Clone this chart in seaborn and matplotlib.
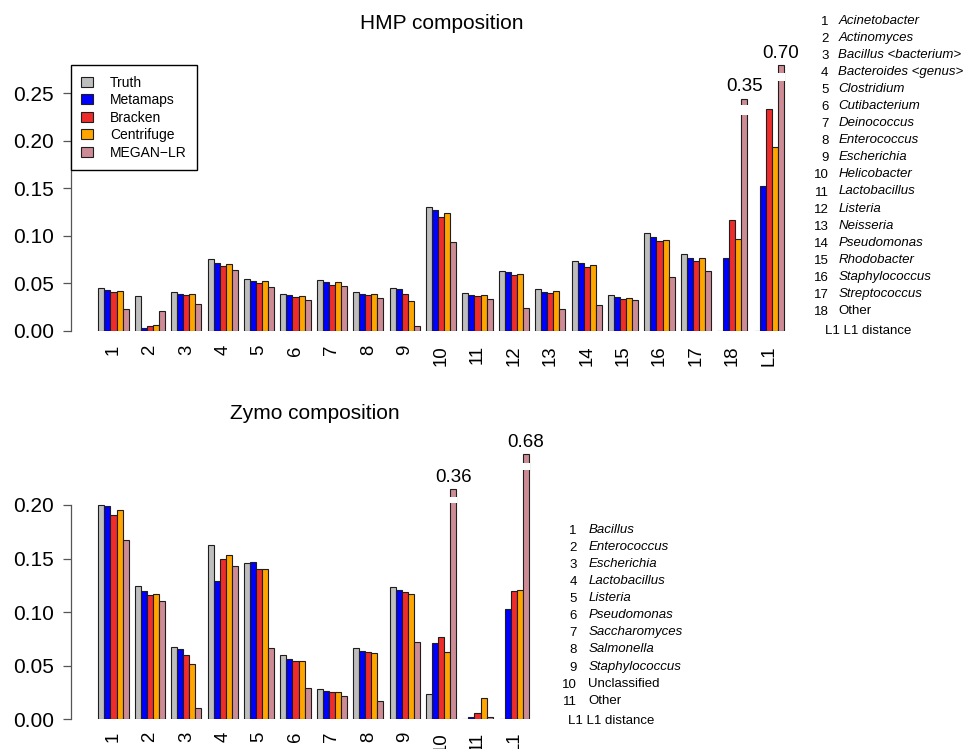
import numpy as np
import pandas as pd
import matplotlib
matplotlib.use("Agg")
import matplotlib.pyplot as plt
from matplotlib.patches import Patch, Rectangle
import seaborn as sns

# ---------------- data ----------------
methods = ["Truth", "Metamaps", "Bracken", "Centrifuge", "MEGAN\u2212LR"]
colors = ["#BEBEBE", "#0000FF", "#EE2C2C", "#FFA500", "#CD8C95"]

hmp_cats = [str(i) for i in range(1, 19)] + ["L1"]
hmp_truth = [0.0446, 0.037, 0.0407, 0.0754, 0.0547, 0.039, 0.0537, 0.0407, 0.0453, 0.1298,
             0.0393, 0.0632, 0.0435, 0.0733, 0.0379, 0.1025, 0.0804, 0.0, 0.0]
hmp_metamaps = [0.0425, 0.0025, 0.039, 0.0709, 0.0526, 0.0375, 0.0509, 0.0382, 0.0435, 0.1267,
                0.0379, 0.0614, 0.041, 0.0709, 0.0354, 0.0982, 0.0765, 0.0761, 0.1519]
hmp_bracken = [0.0404, 0.0046, 0.0375, 0.0684, 0.0502, 0.0358, 0.0484, 0.0375, 0.039, 0.1196,
               0.0365, 0.0582, 0.0393, 0.0674, 0.0333, 0.0944, 0.0733, 0.1165, 0.2333]
hmp_centrifuge = [0.042, 0.0056, 0.039, 0.0705, 0.0519, 0.0368, 0.0512, 0.0382, 0.0309, 0.1235,
                  0.0372, 0.06, 0.0414, 0.0695, 0.0344, 0.0958, 0.0765, 0.0968, 0.1933]
hmp_megan = [0.023, 0.021, 0.0277, 0.0642, 0.0456, 0.0326, 0.0474, 0.0344, 0.0053, 0.093,
             0.0337, 0.0242, 0.0225, 0.0274, 0.0319, 0.0561, 0.0632, 0.35, 0.70]
# truncated (broken) MEGAN bars: category -> (drawn height, gap low, gap high)
hmp_breaks = {"18": (0.2445, 0.2270, 0.2376), "L1": (0.2797, 0.2630, 0.2718)}
hmp_names = ["Acinetobacter", "Actinomyces", "Bacillus <bacterium>", "Bacteroides <genus>",
             "Clostridium", "Cutibacterium", "Deinococcus", "Enterococcus", "Escherichia",
             "Helicobacter", "Lactobacillus", "Listeria", "Neisseria", "Pseudomonas",
             "Rhodobacter", "Staphylococcus", "Streptococcus", "Other"]

zymo_cats = [str(i) for i in range(1, 12)] + ["L1"]
zymo_truth = [0.1997, 0.1245, 0.0674, 0.1624, 0.1457, 0.0596, 0.0283, 0.0661, 0.1239, 0.0233, 0.0, 0.0]
zymo_metamaps = [0.1988, 0.1199, 0.0658, 0.1289, 0.1466, 0.0565, 0.0267, 0.0637, 0.1208, 0.0711, 0.0022, 0.1025]
zymo_bracken = [0.1904, 0.1158, 0.0602, 0.1497, 0.1404, 0.0543, 0.0252, 0.063, 0.1186, 0.0767, 0.0062, 0.1196]
zymo_centrifuge = [0.1953, 0.1171, 0.0519, 0.1534, 0.1404, 0.0543, 0.0258, 0.0618, 0.1168, 0.063, 0.0202, 0.1205]
zymo_megan = [0.1677, 0.1106, 0.0109, 0.1429, 0.0668, 0.0289, 0.0214, 0.0171, 0.0724, 0.36, 0.0025, 0.68]
zymo_breaks = {"10": (0.2149, 0.2016, 0.2077), "L1": (0.2474, 0.2327, 0.2395)}
zymo_names = ["Bacillus", "Enterococcus", "Escherichia", "Lactobacillus", "Listeria",
              "Pseudomonas", "Saccharomyces", "Salmonella", "Staphylococcus",
              "Unclassified", "Other"]
zymo_upright = {"Unclassified", "Other"}
hmp_upright = {"Other"}

# ---------------- style ----------------
sns.set_theme(style="white")
plt.rcParams["font.family"] = ["Liberation Sans", "DejaVu Sans"]
plt.rcParams["axes.linewidth"] = 0.9
plt.rcParams["text.color"] = "black"
plt.rcParams["xtick.color"] = "black"
plt.rcParams["ytick.color"] = "black"
plt.rcParams["xtick.labelcolor"] = "black"
plt.rcParams["ytick.labelcolor"] = "black"

W, H = 968, 749
fig = plt.figure(figsize=(W / 100, H / 100), dpi=100)


def px_axes(x0, x1, y_top, y_bot):
    return fig.add_axes([x0 / W, 1 - y_bot / H, (x1 - x0) / W, (y_bot - y_top) / H])


def draw_panel(ax, cats, series, breaks, ylim_top, yticks, xlim, xpad):
    rows = []
    for m, vals in zip(methods, series):
        for c, v in zip(cats, vals):
            if m == methods[-1] and c in breaks:
                v = breaks[c][0]
            rows.append({"cat": c, "method": m, "value": v})
    df = pd.DataFrame(rows)
    sns.barplot(data=df, x="cat", y="value", hue="method", order=cats, hue_order=methods,
                palette=colors, saturation=1, width=5 / 6, errorbar=None,
                edgecolor="#1e1e1e", linewidth=0.8, legend=False, ax=ax)
    ax.set_xlabel("")
    ax.set_ylabel("")
    ax.set_xlim(*xlim)
    ax.set_ylim(0, ylim_top)
    for s in ["top", "right", "bottom"]:
        ax.spines[s].set_visible(False)
    ax.spines["left"].set_color("#555555")
    ax.spines["left"].set_bounds(yticks[0], yticks[-1])
    ax.set_yticks(yticks)
    ax.set_yticklabels([f"{t:.2f}" for t in yticks], fontsize=15, color="black")
    ax.tick_params(axis="y", length=6, width=0.9, color="#555555", pad=6.5, left=True)
    ax.tick_params(axis="x", length=0, pad=xpad, labelsize=13.4, labelrotation=90,
                   labelcolor="black")
    for lab in ax.get_xticklabels():
        lab.set_va("top")
    # broken bars
    megan_bars = ax.containers[len(methods) - 1]
    megan_vals = series[-1]
    for i, c in enumerate(cats):
        if c in breaks:
            bar = megan_bars[i]
            x, w = bar.get_x(), bar.get_width()
            _, g0, g1 = breaks[c]
            ax.add_patch(Rectangle((x - 0.2 * w, g0), 1.4 * w, g1 - g0, facecolor="white",
                                   edgecolor="none", zorder=5, clip_on=False))
            ax.annotate(f"{megan_vals[i]:.2f}", xy=(x + w / 2, breaks[c][0]),
                        xytext=(0, 8.5), textcoords="offset points", ha="center",
                        va="center", fontsize=13.5, color="black", annotation_clip=False)


# ---- top panel: HMP ----
ax1 = px_axes(71, 812, 55, 330.7)
draw_panel(ax1, hmp_cats,
           [hmp_truth, hmp_metamaps, hmp_bracken, hmp_centrifuge, hmp_megan],
           hmp_breaks, (330.7 - 55) / 949.6, [0, 0.05, 0.10, 0.15, 0.20, 0.25],
           ((71 - 113.5) / 36.4, (812 - 113.5) / 36.4), 10.3)

# ---- bottom panel: Zymo ----
ax2 = px_axes(71, 558, 440, 719.3)
draw_panel(ax2, zymo_cats,
           [zymo_truth, zymo_metamaps, zymo_bracken, zymo_centrifuge, zymo_megan],
           zymo_breaks, (719.3 - 440) / 1071.5, [0, 0.05, 0.10, 0.15, 0.20],
           ((71 - 113.5) / 36.4, (558 - 113.5) / 36.4), 9.0)

# titles
fig.text(441.3 / W, 1 - 29.3 / H, "HMP composition", ha="center", va="baseline", fontsize=15)
fig.text(314.7 / W, 1 - 418.5 / H, "Zymo composition", ha="center", va="baseline", fontsize=15)

# legend
handles = [Patch(facecolor=c, edgecolor="#1e1e1e", linewidth=0.8) for c in colors]
leg = ax1.legend(handles, methods, loc="upper left", bbox_to_anchor=(71 / W, 1 - 65.3 / H),
                 bbox_transform=fig.transFigure, borderaxespad=0, fontsize=10,
                 handlelength=0.8, handleheight=0.7, handletextpad=1.25,
                 labelspacing=0.25, borderpad=0.75, fancybox=False, framealpha=1,
                 edgecolor="black")
leg.get_frame().set_linewidth(1.0)
for t in leg.get_texts():
    t.set_color("black")


# side keys
def side_key(names, upright, num_right, name_left, y0, dy, l1_x, l1_y):
    for i, n in enumerate(names):
        yb = y0 + i * dy + 4.7
        fig.text(num_right / W, 1 - (yb + 1) / H, str(i + 1), ha="right", va="baseline",
                 fontsize=9.5)
        fig.text(name_left / W, 1 - yb / H, n, ha="left", va="baseline", fontsize=9.5,
                 style="normal" if n in upright else "italic")
    fig.text(l1_x / W, 1 - (l1_y + 4.7) / H, "L1 L1 distance", ha="left", va="baseline",
             fontsize=9.5)


side_key(hmp_names, hmp_upright, 828.5, 838.3, 19.0, 17.08, 825, 329.3)
side_key(zymo_names, zymo_upright, 576.7, 588.3, 528.3, 17.07, 568.3, 719.3)

fig.savefig("out.png", dpi=100)
